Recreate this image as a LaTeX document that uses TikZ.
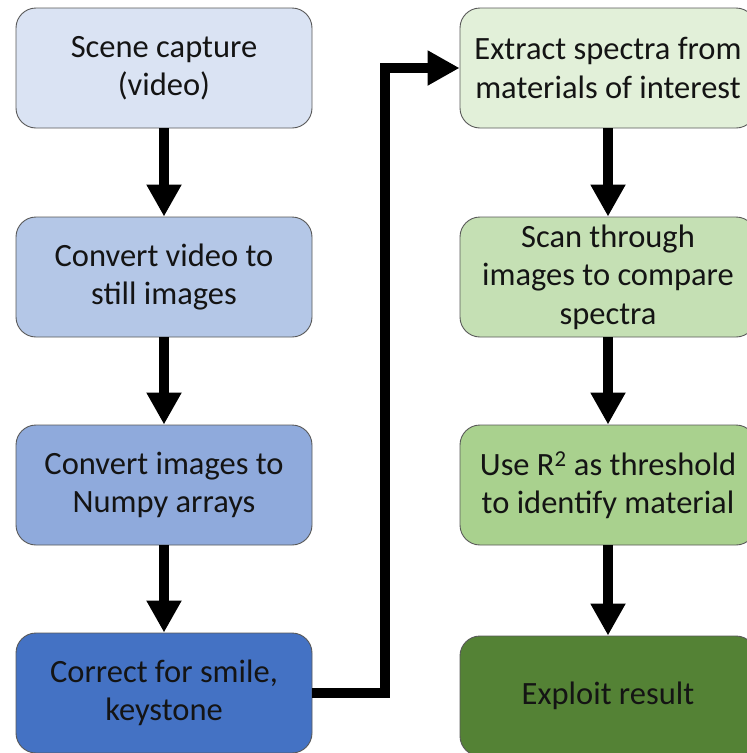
\documentclass[tikz,border=0pt]{standalone}
\usepackage{fontspec}
\setmainfont{Carlito}
\usetikzlibrary{arrows.meta}

\definecolor{blueA}{HTML}{DAE3F3}
\definecolor{blueB}{HTML}{B4C7E7}
\definecolor{blueC}{HTML}{8FAADC}
\definecolor{blueD}{HTML}{4472C4}
\definecolor{greenA}{HTML}{E2F0D9}
\definecolor{greenB}{HTML}{C5E0B4}
\definecolor{greenC}{HTML}{A9D18E}
\definecolor{greenD}{HTML}{548235}
\definecolor{edge}{HTML}{595959}
\definecolor{ink}{HTML}{141414}

\tikzset{
  stepbox/.style={draw=edge, line width=0.9pt, rounded corners=20pt,
    minimum width=296pt, minimum height=120pt, inner sep=0pt,
    align=center, text=ink,
    font=\fontsize{32.5}{38.5}\selectfont},
  flow/.style={draw=black, line width=10pt,
    -{Triangle[width=33pt,length=32pt]}}
}

\begin{document}
\begin{tikzpicture}[x=1pt, y=-1pt]
  \clip (0,0) rectangle (747,753);
  \fill[white] (0,0) rectangle (747,753);

  % left column: preprocessing
  \node[stepbox, fill=blueA] (s1) at (164,68)  {Scene capture\\(video)};
  \node[stepbox, fill=blueB] (s2) at (164,277) {Convert video to\\still images};
  \node[stepbox, fill=blueC] (s3) at (164,485) {Convert images to\\Numpy arrays};
  \node[stepbox, fill=blueD] (s4) at (164,693) {Correct for smile,\\keystone};

  % right column: analysis
  \node[stepbox, fill=greenA] (a1) at (608,68)  {Extract spectra from\\materials of interest};
  \node[stepbox, fill=greenB] (a2) at (608,277) {Scan through\\images to compare\\spectra};
  \node[stepbox, fill=greenC] (a3) at (608,485) {Use R\textsuperscript{2} as threshold\\to identify material};
  \node[stepbox, fill=greenD] (a4) at (608,696) {Exploit result};

  % connectors
  \draw[flow] (s1.south) -- (s2.north);
  \draw[flow] (s2.south) -- (s3.north);
  \draw[flow] (s3.south) -- (s4.north);
  \draw[flow] (s4.east) -- ++(73,0) |- (a1.west);
  \draw[flow] (a1.south) -- (a2.north);
  \draw[flow] (a2.south) -- (a3.north);
  \draw[flow] (a3.south) -- (a4.north);
\end{tikzpicture}
\end{document}
